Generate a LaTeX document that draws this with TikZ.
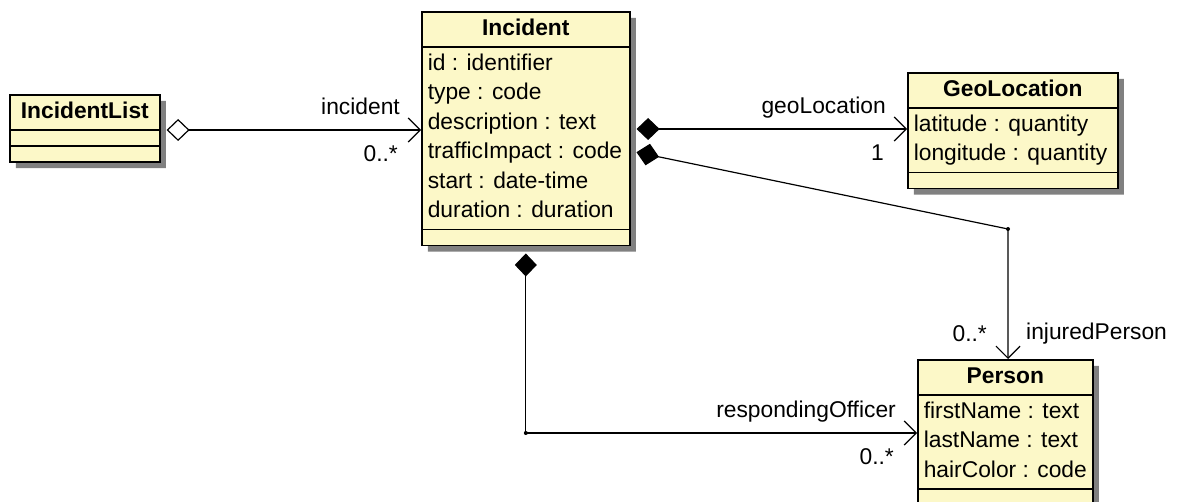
\documentclass[tikz,border=0pt]{standalone}
\usepackage{fontspec}
\setmainfont{Liberation Sans}
\usepackage{tikz}
\usetikzlibrary{shapes.multipart,shadows,arrows.meta}

\definecolor{classfill}{RGB}{252,248,200}

\tikzset{
    umlclass/.style={draw,
    line width=0.8pt,
    fill=classfill,
    rectangle split,
    rectangle split parts=3,
    rectangle split part align={center,left,left},
    inner xsep=3pt,
    inner ysep=1pt,
    anchor=north west,
    font=\fontsize{11.4}{14.75}\selectfont,
    drop shadow={shadow xshift=3pt, shadow yshift=-3pt, fill=black!50, opacity=1}},
    assoc/.style={line width=0.6pt,
    shorten <=3pt},
    aggreg/.style={assoc,
    {Diamond[open,length=11.5pt,width=11pt]}-{Straight Barb[length=6pt,width=12pt]}},
    compo/.style={assoc,
    {Diamond[length=11.5pt,width=11pt]}-{Straight Barb[length=6pt,width=12pt]}},
    role/.style={font=\fontsize{11.4}{14.75}\selectfont,
    text depth=0.25em,
    inner sep=3.8pt}
}

\begin{document}
\begin{tikzpicture}[x=0.5pt,y=-0.5pt]
    \useasboundingbox (0,0) rectangle (1178,502);

    % class nodes
    \node[umlclass,
    minimum width=75pt] (list) at (9,94) {\textbf{IncidentList}\strut\nodepart{second}\nodepart{third}};

    \node[umlclass,
    minimum width=104pt] (incident) at (421,11) {\textbf{Incident}\strut\nodepart{second}\begin{tabular}{@{}l@{}}
    id : identifier\\type : code\\description : text\\trafficImpact : code\\start : date-time\\duration : duration
    \end{tabular}\nodepart{third}};

    \node[umlclass,
    minimum width=105pt] (geo) at (907,72) {\textbf{GeoLocation}\strut\nodepart{second}\begin{tabular}{@{}l@{}}
    latitude : quantity\\longitude : quantity
    \end{tabular}\nodepart{third}};

    \node[umlclass,
    minimum width=87.5pt] (person) at (917,359) {\textbf{Person}\strut\nodepart{second}\begin{tabular}{@{}l@{}}
    firstName : text\\lastName : text\\hairColor : code
    \end{tabular}\nodepart{third}};

    % bend points
    \coordinate (listRow) at (0,130);
    \coordinate (geoRow) at (0,129);
    \coordinate (injRow) at (0,151);
    \coordinate (injBend) at (1008,229);
    \coordinate (officerBend) at (incident.south |- 0,433);

    % drawing connectors
    \draw[aggreg] (list.east |- listRow) -- (incident.west |- listRow)
    node[role, pos=1, above left, xshift=-6.5pt, yshift=1pt] (incidentRole) {incident}
    node[role, pos=1, below left, xshift=-7.5pt, yshift=-3.8pt] (incidentMult) {0..*};

    \draw[compo] (incident.east |- geoRow) -- (geo.west |- geoRow)
    node[role, pos=1, above left, xshift=-6.5pt, yshift=1pt] (geoRole) {geoLocation}
    node[role, pos=1, below left, xshift=-7.5pt, yshift=-3.8pt] (geoMult) {1};

    \draw[compo] (incident.east |- injRow) -- (injBend) -- (injBend |- person.north)
    node[role, pos=1, above right, xshift=5pt, yshift=3pt] (injRole) {injuredPerson}
    node[role, pos=1, above left, xshift=-6.5pt, yshift=2pt] (injMult) {0..*};

    \draw[compo, shorten <=3.5pt] (incident.south) -- (officerBend) -- (person.west |- officerBend)
    node[role, pos=1, above left, xshift=-6.5pt, yshift=1pt] (officerRole) {respondingOfficer}
    node[role, pos=1, below left, xshift=-7.5pt, yshift=-3.8pt] (officerMult) {0..*};

    \fill (injBend) circle (1pt);
    \fill (officerBend) circle (1pt);

\end{tikzpicture}
\end{document}
